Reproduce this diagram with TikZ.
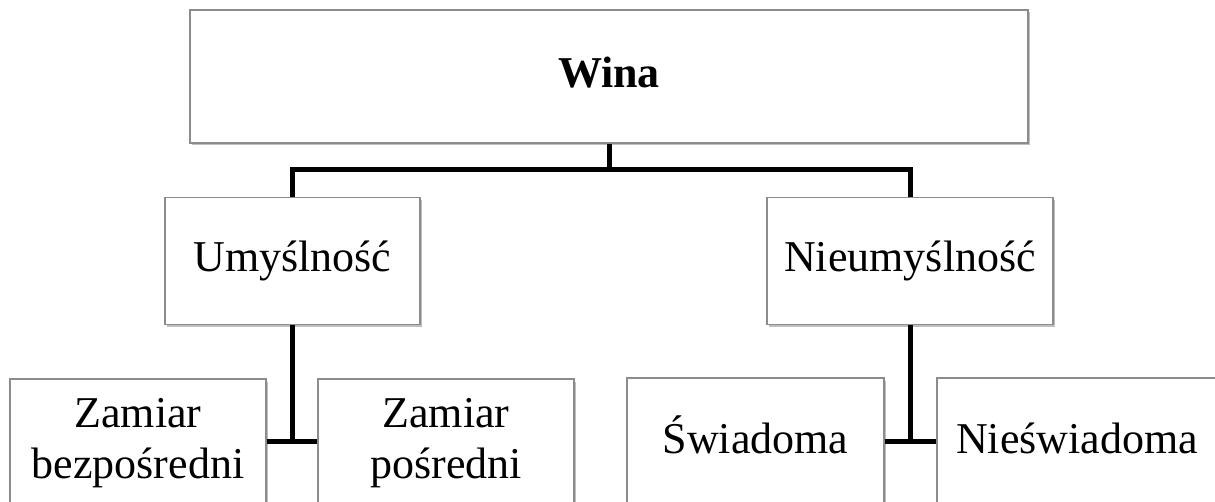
\documentclass[tikz,border=0pt]{standalone}
\usepackage{fontspec}
\setmainfont{Liberation Serif}
\usetikzlibrary{shadows}
\begin{document}
\begin{tikzpicture}[x=1pt,y=-1pt,
  box/.style={draw=black!45,line width=1.2pt,fill=white,inner sep=0pt,align=center,
    font=\fontsize{44}{51}\selectfont,
    drop shadow={shadow xshift=1.5pt,shadow yshift=-2.5pt,opacity=0.25,fill=black}},
  oneline/.style={text height=31pt,text depth=9pt},
  conn/.style={line width=5pt,draw=black}]
\useasboundingbox (0,0) rectangle (1215,502);
\node[box,oneline,minimum width=838pt,minimum height=133pt,font=\fontsize{44}{51}\selectfont\bfseries] (wina) at (609,76.5) {Wina};
\node[box,oneline,minimum width=255pt,minimum height=127pt] (umysl) at (292.5,261) {Umyślność};
\node[box,oneline,minimum width=286pt,minimum height=127pt] (nieumysl) at (910,261) {Nieumyślność};
\node[box,minimum width=256pt,minimum height=128pt] (zb) at (138,443) {Zamiar\\bezpośredni};
\node[box,minimum width=256pt,minimum height=128pt] (zp) at (446,443) {Zamiar\\pośredni};
\node[box,oneline,minimum width=257pt,minimum height=128pt] (sw) at (755.5,442) {Świadoma};
\node[box,oneline,minimum width=280pt,minimum height=128pt] (nsw) at (1077,442) {Nieświadoma};
\coordinate (bar) at (609,170);
\draw[conn] (wina.south) -- (bar);
\draw[conn] (umysl.north) |- (bar) -| (nieumysl.north);
\draw[conn] (umysl.south) -- (umysl.south |- 0,441);
\draw[conn] (zb.east |- 0,441) -- (zp.west |- 0,441);
\draw[conn] (nieumysl.south) -- (nieumysl.south |- 0,441);
\draw[conn] (sw.east |- 0,441) -- (nsw.west |- 0,441);
\end{tikzpicture}
\end{document}
